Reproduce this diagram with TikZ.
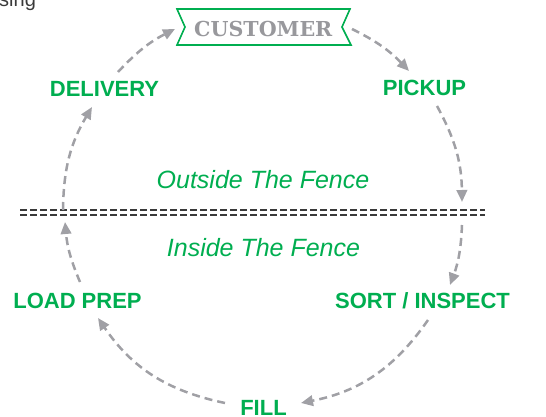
\documentclass[tikz,border=0pt]{standalone}
\usepackage{fontspec}
\setmainfont{Liberation Sans}
\newfontfamily\slabfont{DejaVu Serif}
\usetikzlibrary{arrows.meta}
\definecolor{fgreen}{RGB}{0,174,80}
\definecolor{fgray}{RGB}{160,160,165}
\definecolor{custgray}{RGB}{152,152,156}
\definecolor{fencegray}{RGB}{58,58,58}
\tikzset{
  lbl/.style={text=fgreen, font=\fontsize{22}{24}\selectfont\bfseries, inner sep=0pt, anchor=base},
  zone/.style={text=fgreen, font=\fontsize{25}{27}\selectfont\itshape, inner sep=0pt, anchor=base},
  flow/.style={draw=fgray, line width=2.5pt, dash pattern=on 8pt off 5pt,
    -{Triangle[length=12pt,width=10.5pt]}, fill=none},
  fence/.style={draw=fencegray, line width=2.2pt, dash pattern=on 6.6pt off 3.4pt},
  banner/.style={draw=fgreen, line width=1.6pt}
}
\begin{document}
\begin{tikzpicture}[x=1pt,y=1pt]
\useasboundingbox (0,0) rectangle (546,417);
% clipped text at top left
\node[text=fencegray, font=\fontsize{20}{22}\selectfont, inner sep=0pt, anchor=base west] (frag) at (-1,410) {sing};
% banner
\draw[banner] (177,408) -- (350,408) -- (342,390) -- (351,372) -- (177,372) -- (185,390) -- cycle;
\node[text=custgray, font=\slabfont\bfseries\fontsize{20.6}{22}\selectfont, inner sep=0pt, anchor=base] (customer) at (263.3,380.3) {CUSTOMER};
% labels
\node[lbl] (delivery) at (104.5,320.3) {DELIVERY};
\node[lbl] (pickup) at (424.5,321) {PICKUP};
\node[lbl] (sort) at (422.5,108.7) {SORT / INSPECT};
\node[lbl] (loadprep) at (77.5,108.7) {LOAD PREP};
\node[lbl] (fill) at (263.5,1.5) {FILL};
\node[zone] (outside) at (263,228) {Outside The Fence};
\node[zone] (inside) at (263.5,160.3) {Inside The Fence};
% fence
\coordinate (fenceL) at (20,204.5);
\coordinate (fenceR) at (485,204.5);
\draw[fence] ([yshift=2.6pt]fenceL) -- ([yshift=2.6pt]fenceR);
\draw[fence] ([yshift=-2.6pt]fenceL) -- ([yshift=-2.6pt]fenceR);
% arrow end points
\coordinate (a1s) at (118,345);  \coordinate (a1e) at (175,388);
\coordinate (a2s) at (352,388);  \coordinate (a2e) at (409,346);
\coordinate (a3s) at (437,311);  \coordinate (a3e) at (462,215);
\coordinate (a4s) at (462,192);  \coordinate (a4e) at (450,132);
\coordinate (a5s) at (428,97);   \coordinate (a5e) at (301,14);
\coordinate (a6s) at (225,14);   \coordinate (a6e) at (98,99);
\coordinate (a7s) at (80,135);   \coordinate (a7e) at (65,195);
\coordinate (a8s) at (63,207);   \coordinate (a8e) at (92,310);
\draw[flow] (a1s) to[bend left=10] (a1e);
\draw[flow] (a2s) to[bend left=10] (a2e);
\draw[flow] (a3s) to[bend left=14] (a3e);
\draw[flow] (a4s) to[bend left=9] (a4e);
\draw[flow] (a5s) to[bend left=22] (a5e);
\draw[flow] (a6s) to[bend left=22] (a6e);
\draw[flow] (a7s) to[bend left=9] (a7e);
\draw[flow] (a8s) to[bend left=15] (a8e);
\end{tikzpicture}
\end{document}
